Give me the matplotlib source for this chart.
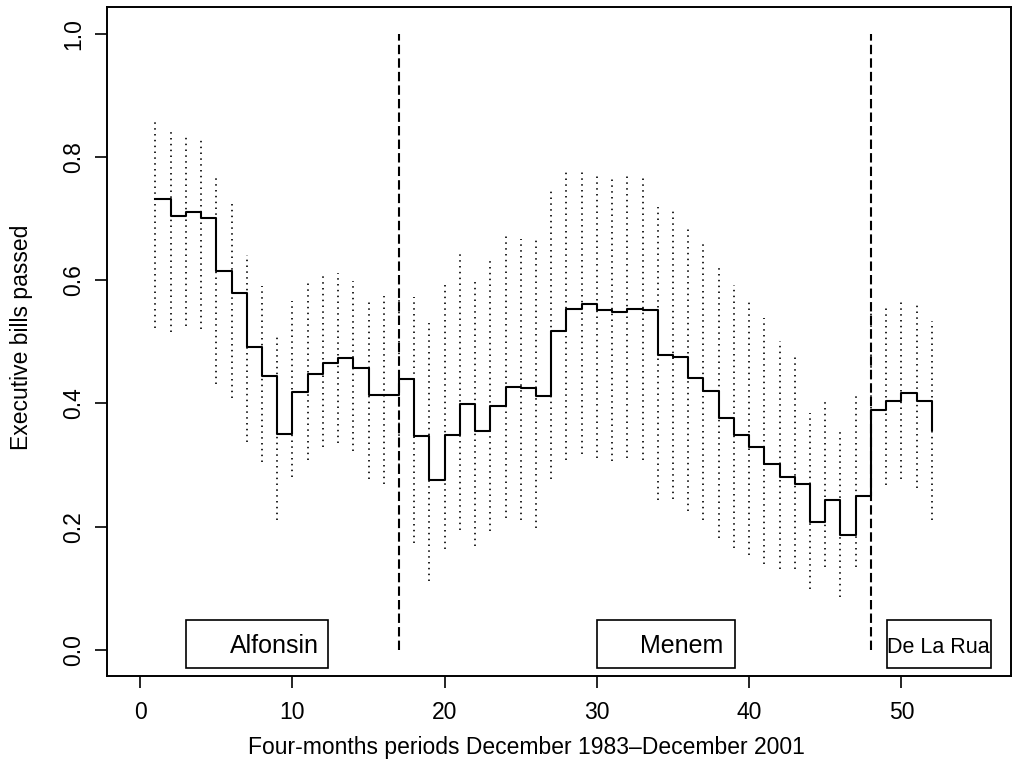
import matplotlib
matplotlib.use('Agg')
import matplotlib.pyplot as plt
from matplotlib.patches import Rectangle

plt.rcParams['font.family'] = ['Liberation Sans', 'DejaVu Sans']

# four-month periods 1..52
periods = list(range(1, 53))
passed = [0.731, 0.705, 0.711, 0.701, 0.615, 0.580, 0.491, 0.444, 0.350, 0.419,
          0.447, 0.466, 0.473, 0.458, 0.414, 0.414, 0.440, 0.347, 0.276, 0.349,
          0.399, 0.356, 0.395, 0.427, 0.425, 0.412, 0.517, 0.553, 0.561, 0.552,
          0.548, 0.553, 0.552, 0.478, 0.476, 0.441, 0.420, 0.377, 0.349, 0.330,
          0.302, 0.281, 0.270, 0.208, 0.244, 0.186, 0.249, 0.390, 0.404, 0.417,
          0.404, 0.357]
upper = [0.862, 0.844, 0.838, 0.833, 0.770, 0.729, 0.641, 0.590, 0.513, 0.567,
         0.595, 0.606, 0.612, 0.599, 0.566, 0.574, 0.600, 0.573, 0.530, 0.594,
         0.645, 0.601, 0.634, 0.673, 0.667, 0.665, 0.746, 0.775, 0.775, 0.770,
         0.765, 0.770, 0.768, 0.719, 0.713, 0.683, 0.660, 0.624, 0.592, 0.570,
         0.538, 0.502, 0.477, 0.385, 0.404, 0.354, 0.412, 0.560, 0.555, 0.565,
         0.559, 0.533]
lower = [0.523, 0.516, 0.526, 0.520, 0.431, 0.408, 0.337, 0.305, 0.210, 0.281,
         0.308, 0.329, 0.335, 0.322, 0.278, 0.270, 0.300, 0.173, 0.112, 0.163,
         0.195, 0.169, 0.193, 0.214, 0.211, 0.197, 0.278, 0.308, 0.318, 0.311,
         0.306, 0.311, 0.308, 0.243, 0.245, 0.225, 0.210, 0.181, 0.166, 0.154,
         0.139, 0.131, 0.131, 0.098, 0.134, 0.085, 0.134, 0.250, 0.268, 0.278,
         0.263, 0.211]

# presidencies: change points and label boxes
breaks = [17, 48]
presidents = ['Alfonsin', 'Menem', 'De La Rua']
box_x0 = [3.0, 30.0, 49.05]
box_x1 = [12.35, 39.1, 55.9]
label_x = [8.8, 35.55, 52.45]
label_size = [18, 18, 15.5]

fig = plt.figure(figsize=(10.17, 7.65), dpi=100)
ax = fig.add_axes([0.1049, 0.1167, 0.8892, 0.8738])

ax.vlines(periods, lower, upper, colors='black', linewidth=1.2,
          linestyles=[(0, (0.9, 2.6))])
ax.step(periods, passed, where='post', color='black', linewidth=1.5)
ax.vlines(breaks, 0, 1, colors='black', linewidth=1.5,
          linestyles=[(0, (4.5, 2))])

for name, x0, x1, lx, fs in zip(presidents, box_x0, box_x1, label_x, label_size):
    ax.add_patch(Rectangle((x0, -0.0287), x1 - x0, 0.0773, fill=False,
                           edgecolor='black', linewidth=1.2))
    ax.text(lx, -0.005, name, ha='center', va='baseline', fontsize=fs)

ax.set_xlim(-2.2, 57.2)
ax.set_ylim(-0.042, 1.043)
ax.set_xticks([0, 10, 20, 30, 40, 50])
ax.set_yticks([0.0, 0.2, 0.4, 0.6, 0.8, 1.0])
ax.set_yticklabels(['0.0', '0.2', '0.4', '0.6', '0.8', '1.0'], rotation=90, va='center')
ax.tick_params(labelsize=16.5, length=8.5, width=1.2)
ax.tick_params(axis='x', pad=10)
ax.tick_params(axis='y', pad=7)
for s in ax.spines.values():
    s.set_linewidth(1.4)

ax.set_xlabel('Four-months periods December 1983\u2013December 2001', fontsize=16.5, va='center')
ax.set_ylabel('Executive bills passed', fontsize=16.5, va='center')
ax.xaxis.set_label_coords(0.464, -0.108)
ax.yaxis.set_label_coords(-0.094, 0.507)

plt.savefig('out.png')
